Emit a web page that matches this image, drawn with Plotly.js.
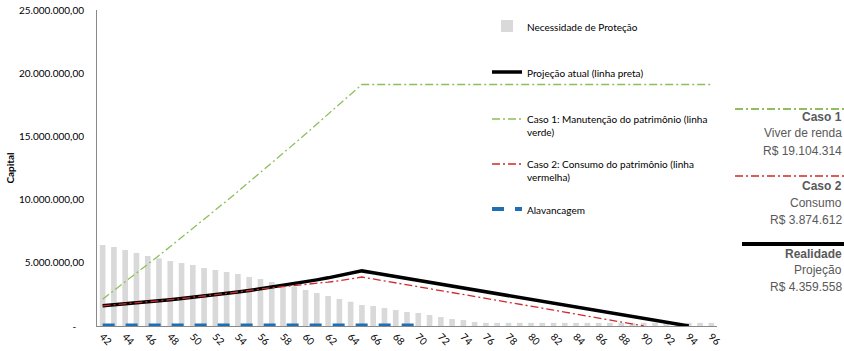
<!DOCTYPE html>
<html><head><meta charset="utf-8">
<script src="https://cdn.plot.ly/plotly-3.0.1.min.js"></script>
<style>html,body{margin:0;padding:0;background:#fff}#chart{width:844px;height:351px}</style>
</head><body><div id="chart"></div>
<script>
const ages = ['42','43','44','45','46','47','48','49','50','51','52','53','54','55','56','57','58','59','60','61','62','63','64','65','66','67','68','69','70','71','72','73','74','75','76','77','78','79','80','81','82','83','84','85','86','87','88','89','90','91','92','93','94','95','96'];
const tickAges = ['42','44','46','48','50','52','54','56','58','60','62','64','66','68','70','72','74','76','78','80','82','84','86','88','90','92','94','96'];

// Necessidade de Proteção
const necessidade = [6410000,6250000,6010000,5780000,5540000,5350000,5140000,4980000,4830000,4590000,
  4430000,4270000,4110000,3880000,3720000,3480000,3300000,3110000,2850000,2610000,
  2370000,2140000,1920000,1660000,1580000,1420000,1270000,1110000,1030000,870000,
  710000,550000,470000,320000,250000,250000,250000,250000,250000,250000,
  250000,250000,250000,250000,250000,250000,250000,250000,250000,250000,
  250000,250000,250000,250000,250000];

// Projeção atual (linha preta)
const projecao = [1600000,1670000,1750000,1820000,1900000,1990000,2080000,2170000,2260000,2360000,
  2470000,2580000,2690000,2810000,2940000,3070000,3200000,3350000,3490000,3650000,
  3810000,3980000,4160000,4359558,4210000,4060000,3910000,3760000,3610000,3460000,
  3310000,3160000,3010000,2860000,2710000,2560000,2410000,2260000,2110000,1960000,
  1810000,1660000,1510000,1360000,1210000,1060000,910000,760000,610000,460000,
  310000,160000,0,null,null];

// Caso 1: Manutenção do patrimônio (linha verde)
const caso1 = [2120000,2800000,3485000,4176000,4872000,5574000,6281000,6994000,7712000,8436000,
  9165000,9900000,10640000,11385000,12136000,12892000,13654000,14421000,15194000,15972000,
  16756000,17545000,18320000,19104314,19104314,19104314,19104314,19104314,19104314,19104314,
  19104314,19104314,19104314,19104314,19104314,19104314,19104314,19104314,19104314,19104314,
  19104314,19104314,19104314,19104314,19104314,19104314,19104314,19104314,19104314,19104314,
  19104314,19104314,19104314,19104314,19104314];

// Caso 2: Consumo do patrimônio (linha vermelha)
const caso2 = [1600000,1670000,1750000,1820000,1900000,1990000,2080000,2170000,2260000,2360000,
  2470000,2580000,2690000,2810000,2940000,3030000,3110000,3190000,3280000,3370000,
  3470000,3580000,3720000,3874612,3720000,3570000,3420000,3270000,3120000,2970000,
  2820000,2660000,2500000,2340000,2180000,2030000,1880000,1730000,1580000,1420000,
  1260000,1100000,940000,780000,620000,460000,310000,150000,0,null,
  null,null,null,null,null];

// Alavancagem
const alavancagem = [30000,30000,30000,30000,30000,30000,30000,30000,30000,30000,
  30000,30000,30000,30000,30000,30000,30000,30000,30000,30000,
  30000,30000,30000,30000,30000,30000,30000,30000,30000,null,
  null,null,null,null,null,null,null,null,null,null,
  null,null,null,null,null,null,null,null,null,null,
  null,null,null,null,null];

const yTicks = [0,5000000,10000000,15000000,20000000,25000000];
const yTickText = ['-\u00a0\u00a0\u00a0','5.000.000,00','10.000.000,00','15.000.000,00','20.000.000,00','25.000.000,00'];

const FONT = 'Lato, "Open Sans", sans-serif';

const traces = [
  {type:'bar', name:'Necessidade de Proteção', x:ages, y:necessidade, marker:{color:'#d9d9d9'}, legend:'legend', legendgroup:'a', hoverinfo:'skip'},
  {type:'scatter', mode:'lines', name:'Projeção atual (linha preta)', x:ages, y:projecao, line:{color:'#000000', width:3.5}, legend:'legend', legendgroup:'b'},
  {type:'scatter', mode:'lines', name:'Caso 1: Manutenção do patrimônio (linha<br>verde)', x:ages, y:caso1, line:{color:'#8dbf5a', width:1.3, dash:'8px,3px,2px,3px'}, legend:'legend2', legendgroup:'c'},
  {type:'scatter', mode:'lines', name:'Caso 2: Consumo do patrimônio (linha<br>vermelha)', x:ages, y:caso2, line:{color:'#d02a2a', width:1.3, dash:'8px,3px,2px,3px'}, legend:'legend2', legendgroup:'d'},
  {type:'scatter', mode:'lines', name:'Alavancagem', x:ages, y:alavancagem, line:{color:'#1f6fb5', width:4, dash:'12px,11px'}, legend:'legend2', legendgroup:'e'}
];

const px = v => (v-97)/620;
const py = v => (326-v)/316;
const annFont = {family:'"Liberation Sans", Arial, sans-serif', size:12, color:'#595959'};
const rightTexts = [
  ['<b>Caso 1</b>',117],['Viver de renda',133],['R$ 19.104.314',151],
  ['<b>Caso 2</b>',186],['Consumo',203],['R$ 3.874.612',220],
  ['<b>Realidade</b>',254],['Projeção',270],['R$ 4.359.558',287]
];

const legendBase = {xanchor:'left', yanchor:'top', font:{family:FONT, size:10, color:'#000'},
  bgcolor:'rgba(0,0,0,0)', traceorder:'grouped', valign:'top', itemwidth:30};

const layout = {
  width:844, height:351,
  margin:{l:97, r:127, t:10, b:25},
  paper_bgcolor:'#ffffff', plot_bgcolor:'#ffffff',
  font:{family:FONT, size:10, color:'#000'},
  bargap:0.5,
  showlegend:true,
  legend:Object.assign({}, legendBase, {x:px(487), y:py(13), tracegroupgap:27}),
  legend2:Object.assign({}, legendBase, {x:px(487), y:py(106), tracegroupgap:16}),
  xaxis:{type:'category', range:[-0.5,54.5], tickmode:'array', tickvals:tickAges, ticktext:tickAges,
    tickangle:45, showline:true, linecolor:'#898989', linewidth:1, ticks:'', showgrid:false, zeroline:false,
    tickfont:{family:FONT, size:10, color:'#000'}, fixedrange:true},
  yaxis:{range:[0,25000000], tickmode:'array', tickvals:yTicks, ticktext:yTickText, showline:true,
    linecolor:'#898989', linewidth:1, ticks:'', showgrid:false, zeroline:false, ticklabelstandoff:10,
    tickfont:{family:FONT, size:10, color:'#000'},
    title:{text:'<b>Capital</b>', font:{family:FONT, size:10, color:'#000'}, standoff:2}},
  shapes:[
    {type:'line', xref:'paper', yref:'paper', x0:px(735), x1:px(844), y0:py(109), y1:py(109), line:{color:'#8dbf5a', width:2, dash:'8px,3px,2px,3px'}},
    {type:'line', xref:'paper', yref:'paper', x0:px(735), x1:px(844), y0:py(176), y1:py(176), line:{color:'#d02a2a', width:1.5, dash:'8px,3px,2px,3px'}},
    {type:'line', xref:'paper', yref:'paper', x0:px(742), x1:px(844), y0:py(244), y1:py(244), line:{color:'#000000', width:4}}
  ],
  annotations: rightTexts.map(t => ({xref:'paper', yref:'paper', x:px(843), y:py(t[1]), xanchor:'right', yanchor:'middle',
    text:t[0], showarrow:false, font:annFont, borderpad:0}))
};

Plotly.newPlot('chart', traces, layout, {displayModeBar:false, staticPlot:true});
</script>
</body></html>
